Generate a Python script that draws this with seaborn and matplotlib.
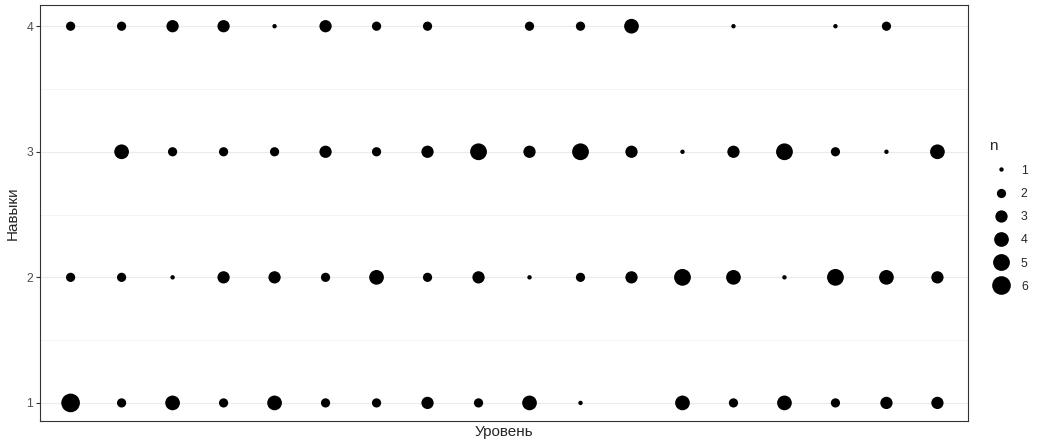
import pandas as pd
import numpy as np
import seaborn as sns
import matplotlib.pyplot as plt

# -------- data: counts per level (0 = no point) --------
levels = list(range(1, 19))
skills = [1, 2, 3, 4]
n_skill1 = [6, 2, 4, 2, 4, 2, 2, 3, 2, 4, 1, 0, 4, 2, 4, 2, 3, 3]
n_skill2 = [2, 2, 1, 3, 3, 2, 4, 2, 3, 1, 2, 3, 5, 4, 1, 5, 4, 3]
n_skill3 = [0, 4, 2, 2, 2, 3, 2, 3, 5, 3, 5, 3, 1, 3, 5, 2, 1, 4]
n_skill4 = [2, 2, 3, 3, 1, 3, 2, 2, 0, 2, 2, 4, 0, 1, 0, 1, 2, 0]

rows = []
for skill, counts in zip(skills, [n_skill1, n_skill2, n_skill3, n_skill4]):
    for lev, n in zip(levels, counts):
        if n > 0:
            rows.append({'level': lev, 'skill': skill, 'n': n})
df = pd.DataFrame(rows)

# -------- plot --------
sns.set_style('white')
plt.rcParams['font.family'] = ['Liberation Sans', 'DejaVu Sans']

fig = plt.figure(figsize=(10.42, 4.48), dpi=100)
ax = fig.add_axes([0.0384, 0.060, 0.8906, 0.9286])

# grid lines like theme_bw
for y in [1, 2, 3, 4]:
    ax.axhline(y, color='#EBEBEB', lw=0.8, zorder=0)
for y in [1.5, 2.5, 3.5]:
    ax.axhline(y, color='#F2F2F2', lw=0.6, zorder=0)

sns.scatterplot(data=df, x='level', y='skill', size='n', sizes=(10, 180),
                size_norm=(1, 6), color='black', linewidth=0, legend='full',
                ax=ax, zorder=3)

ax.set_xlim(0.4, 18.6)
ax.set_ylim(0.855, 4.168)
ax.set_xticks([])
ax.set_yticks(skills)
ax.set_yticklabels([str(s) for s in skills], color='#4D4D4D', fontsize=8.8)
ax.tick_params(axis='y', length=3, width=0.8, color='#333333', pad=2, left=True)
ax.set_xlabel('Уровень', fontsize=11, labelpad=3)
ax.set_ylabel('Навыки', fontsize=11, labelpad=5)
for sp in ax.spines.values():
    sp.set_color('#333333')
    sp.set_linewidth(0.8)

handles, labels = ax.get_legend_handles_labels()
leg = ax.legend(handles, labels, title='n', frameon=False, loc='center left',
                bbox_to_anchor=(1.0135, 0.493), fontsize=8.8, title_fontsize=11,
                labelspacing=0.92, handletextpad=0.6, borderaxespad=0.3)
leg._legend_box.align = 'left'

fig.savefig('out.png', dpi=100)
